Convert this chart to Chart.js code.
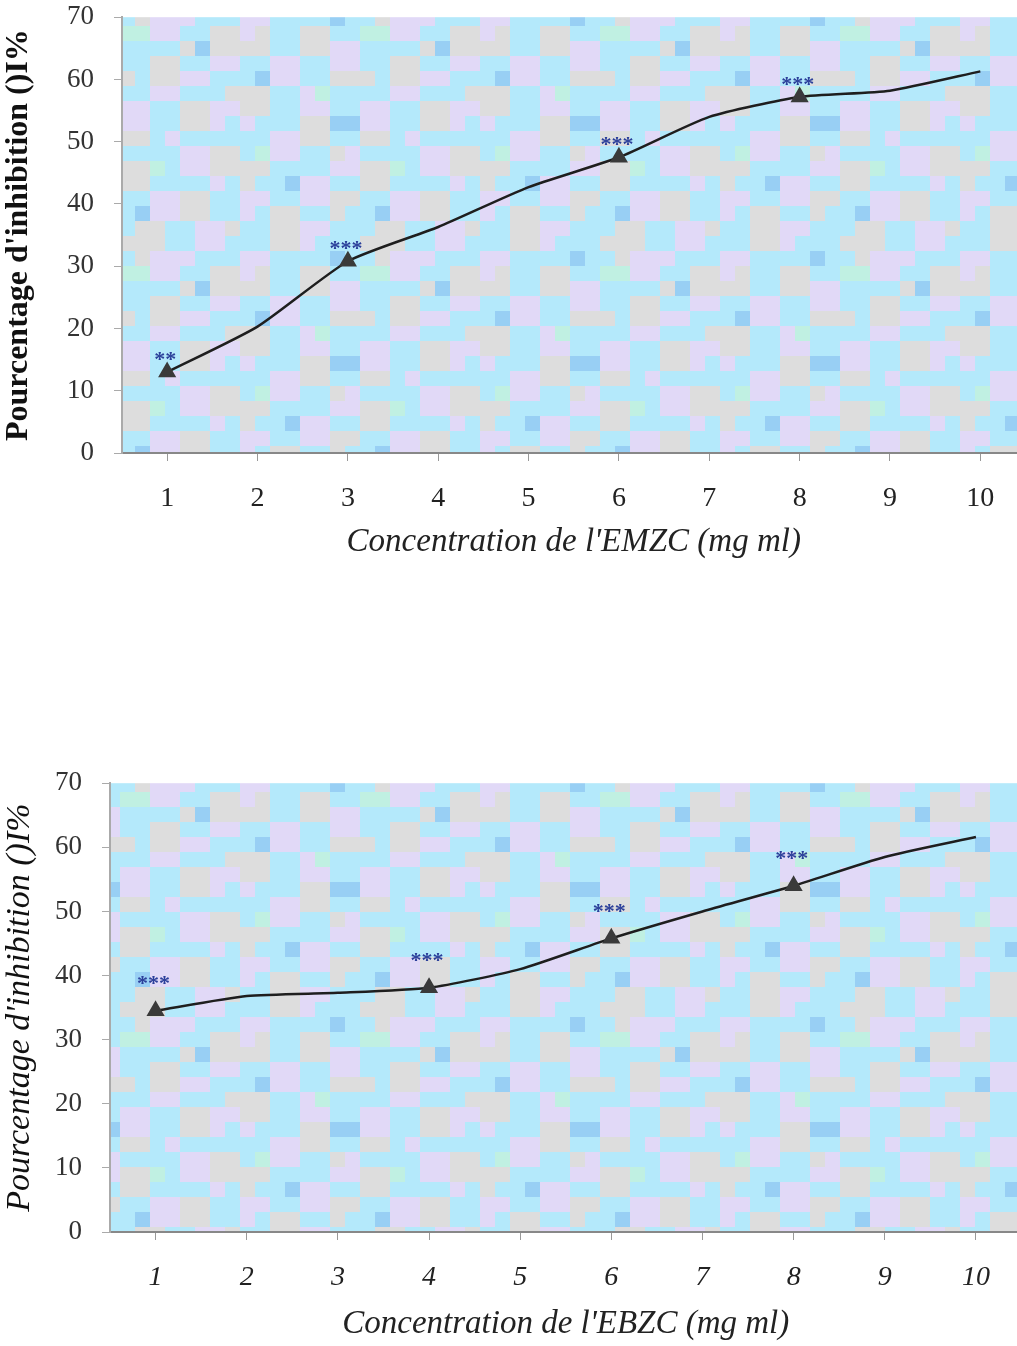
<!DOCTYPE html>
<html>
<head>
<meta charset="utf-8">
<script src="https://cdn.jsdelivr.net/npm/chart.js@4/dist/chart.umd.min.js"></script>
<style>
  body { margin: 0; background: #fff; width: 1017px; height: 1346px; overflow: hidden; position: relative; }
  .box { position: absolute; left: 0; }
</style>
</head>
<body>
<div class="box" style="top:-19px;width:1036px;height:594px"><canvas id="chartTop"></canvas></div>
<div class="box" style="top:747px;width:1032px;height:599px"><canvas id="chartBottom"></canvas></div>
<script>
const concentrations = ["1", "2", "3", "4", "5", "6", "7", "8", "9", "10"];
const emzcInhibition = [13, 20.3, 30.8, 36.3, 42.7, 47.5, 54, 57.2, 58.2, 61.3];
const emzcStars = ["**", "", "***", "", "", "***", "", "***", "", ""];
const ebzcInhibition = [34.5, 36.8, 37.3, 38.1, 41, 45.8, 50, 54, 58.5, 61.6];
const ebzcStars = ["***", "", "", "***", "", "***", "", "***", "", ""];
const yTicks = [0, 10, 20, 30, 40, 50, 60, 70];

// scanned-looking mosaic behind the plot
const tileRows = [
  "bbggppbbbggbbppg",
  "bbggpbbbgggbbppb",
  "ppbbbbdbbgpppbbb",
  "pgbbggbbmmppbbgg",
  "ggbbggppbbbbgdgg",
  "bbppbbppbbggbbpp",
  "bdppbbgggbggppbb",
  "ggbbpmbbbbppbbbg",
  "ggbbppbbppbbggpp",
  "pbbbggddppbbggpb",
  "bbppggbbggbpbbbb",
  "bmppbbgpbbbbppgg",
  "ggbbbbppggmbppgg",
  "gbbdppbbggbbbbpb",
  "ppbbppggbbppggbb",
  "pbggbbgbbdppggbb"
];
const tileColors = { g: "#dddddd", p: "#e1d9f7", b: "#b4e9fb", d: "#98cff4", m: "#c0f0e2" };

function makePattern(ctx, cell) {
  const t = document.createElement("canvas");
  t.width = tileRows[0].length * cell;
  t.height = tileRows.length * cell;
  const c = t.getContext("2d");
  tileRows.forEach((row, r) => {
    [...row].forEach((ch, k) => {
      c.fillStyle = tileColors[ch];
      c.fillRect(k * cell, r * cell, cell, cell);
    });
  });
  return ctx.createPattern(t, "repeat");
}

const mosaic = {
  id: "mosaic",
  beforeDraw(chart) {
    const a = chart.chartArea;
    const ctx = chart.ctx;
    ctx.save();
    ctx.fillStyle = makePattern(ctx, 15);
    ctx.fillRect(a.left, a.top, a.right - a.left, a.bottom - a.top);
    ctx.restore();
  }
};

const starLabels = {
  id: "starLabels",
  afterDatasetsDraw(chart, args, opts) {
    const pts = chart.getDatasetMeta(0).data;
    const ctx = chart.ctx;
    ctx.save();
    ctx.fillStyle = "#2b3f9a";
    ctx.font = "bold 22px 'Liberation Serif'";
    ctx.textAlign = "center";
    ctx.textBaseline = "middle";
    opts.stars.forEach((s, i) => {
      if (s) ctx.fillText(s, pts[i].x - 2, pts[i].y - opts.lift + 6);
    });
    ctx.restore();
  }
};

function buildChart(id, values, stars, xTitle, opt) {
  const sizes = stars.map(s => s ? 8 : 0);
  return new Chart(document.getElementById(id), {
    type: "line",
    data: {
      labels: concentrations,
      datasets: [{
        data: values,
        borderColor: "#1e1e1e",
        borderWidth: 2.5,
        tension: 0.2,
        pointStyle: "triangle",
        pointRadius: sizes,
        pointBackgroundColor: "#3a3a3a",
        pointBorderColor: "#3a3a3a",
        fill: false
      }]
    },
    options: {
      responsive: true,
      maintainAspectRatio: false,
      animation: false,
      layout: { padding: { top: opt.top, right: 0, left: 0, bottom: opt.bottom } },
      plugins: {
        legend: { display: false },
        tooltip: { enabled: false },
        starLabels: { stars: stars, lift: opt.lift }
      },
      scales: {
        x: {
          offset: true,
          afterFit(scale) { scale.height = opt.xHeight; },
          grid: { display: true, drawOnChartArea: false, tickLength: 8, color: "#999" },
          border: { color: "#888", width: 2 },
          ticks: {
            color: "#222",
            padding: opt.xPad,
            font: { family: "'Liberation Serif'", size: 28, style: opt.xStyle }
          },
          title: {
            display: true,
            text: xTitle,
            color: "#222",
            padding: { top: 0, bottom: 0 },
            font: { family: "'Liberation Serif'", size: 33, style: "italic" }
          }
        },
        y: {
          min: 0,
          max: 70,
          afterFit(scale) { scale.width = opt.left; },
          afterBuildTicks(scale) { scale.ticks = yTicks.map(v => ({ value: v })); },
          grid: { display: true, drawOnChartArea: false, tickLength: 8, color: "#aaa" },
          border: { color: "#aaa", width: 2 },
          ticks: {
            color: "#333",
            padding: opt.yPad,
            font: { family: "'Liberation Serif'", size: 27 }
          },
          title: {
            display: true,
            text: "Pourcentage d'inhibition ()I%",
            color: "#111",
            padding: { top: 0, bottom: 0 },
            font: { family: "'Liberation Serif'", size: opt.ySize, weight: opt.yWeight, style: opt.yStyle }
          }
        }
      }
    },
    plugins: [mosaic, starLabels]
  });
}

buildChart("chartTop", emzcInhibition, emzcStars, "Concentration de l'EMZC (mg ml)",
  { top: 18, bottom: 13, xHeight: 109, left: 122, xPad: 21, xStyle: "normal", yPad: 20,
    ySize: 32, yWeight: "bold", yStyle: "normal", lift: 18 });
buildChart("chartBottom", ebzcInhibition, ebzcStars, "Concentration de l'EBZC (mg ml)",
  { top: 22, bottom: 2, xHeight: 112, left: 110, xPad: 21, xStyle: "italic", yPad: 20,
    ySize: 34, yWeight: "normal", yStyle: "italic", lift: 32 });
</script>
</body>
</html>
